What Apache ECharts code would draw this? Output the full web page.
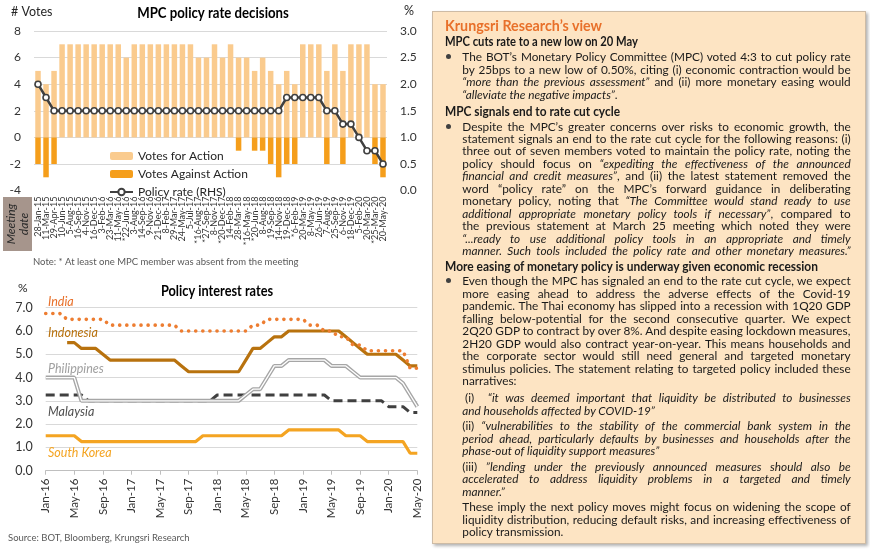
<!DOCTYPE html>
<html><head><meta charset="utf-8">
<script src="https://cdn.jsdelivr.net/npm/echarts@6/dist/echarts.min.js"></script>
<style>
html,body{margin:0;padding:0;background:#fff;width:870px;height:552px;overflow:hidden;}
#chart{position:absolute;left:0;top:0;width:870px;height:552px;}
#panel{position:absolute;left:432px;top:11px;width:434px;height:533px;background:#FDE4C3;border:1px solid #CDBBA5;box-shadow:2px 2px 3px rgba(0,0,0,0.3);font-family:Lato,sans-serif;color:#1a1a1a;box-sizing:border-box;}
.ln{position:absolute;white-space:nowrap;font-size:11.8px;line-height:13px;transform-origin:0 50%;}
.h{font-weight:bold;font-size:12.5px;}
.t{font-weight:bold;font-size:15px;color:#E8702A;line-height:17px;}
.dot{position:absolute;width:5px;height:5px;border-radius:50%;background:#404040;}
</style></head>
<body>
<div id="chart"></div>
<div id="panel"></div>
<script>
// ---------- Data: MPC policy rate decisions ----------
const meetingDates = ['28-Jan-15','11-Mar-15','29-Apr-15','10-Jun-15','5-Aug-15','16-Sep-15','4-Nov-15','16-Dec-15',
 '3-Feb-16','23-Mar-16','11-May-16','*22-Jun-16','3-Aug-16','14-Sep-16','9-Nov-16','21-Dec-16',
 '8-Feb-17','29-Mar-17','24-May-17','5-Jul-17','*16-Aug-17','*27-Sep-17','8-Nov-17','*20-Dec-17',
 '14-Feb-18','28-Mar-18','*16-May-18','*20-Jun-18','8-Aug-18','19-Sep-18','14-Nov-18','19-Dec-18',
 '*6-Feb-19','20-Mar-19','8-May-19','26-Jun-19','7-Aug-19','25-Sep-19','6-Nov-19','18-Dec-19',
 '5-Feb-20','20-Mar-20','*25-Mar-20','20-May-20'];
const votesFor = [5,4,5, 7,7,7,7,7,7,7,7, 6, 7,7,7,7,7,7,7,7,
 6,6,7,6,7,6,6,5,6,5,4,5,4,7,7,7,5,7,5,7,7,7,4,4];
const votesAgainst = [-2,-3,-2, 0,0,0,0,0,0,0,0,0,0,0,0,0,0,0,0,0,0,0,0,0,0,
 -1,0,-1,-1,-2,-3,-2,-2,0,0,0,-2,0,-2,0,0,0,-2,-3];
const policyRate = [2.0,1.75, 1.5,1.5,1.5,1.5,1.5,1.5,1.5,1.5,1.5,1.5,1.5,1.5,1.5,1.5,1.5,1.5,1.5,1.5,1.5,1.5,
 1.5,1.5,1.5,1.5,1.5,1.5,1.5,1.5,1.5, 1.75,1.75,1.75,1.75,1.75, 1.5,1.5, 1.25,1.25, 1.0, 0.75,0.75, 0.5];
const leftTicks = {min:-4, max:8, step:2};
const rightTicks = {min:0, max:3, step:0.5};

// ---------- Data: Policy interest rates (monthly) ----------
const months = ['Jan-16','Feb-16','Mar-16','Apr-16','May-16','Jun-16','Jul-16','Aug-16','Sep-16','Oct-16','Nov-16','Dec-16',
 'Jan-17','Feb-17','Mar-17','Apr-17','May-17','Jun-17','Jul-17','Aug-17','Sep-17','Oct-17','Nov-17','Dec-17',
 'Jan-18','Feb-18','Mar-18','Apr-18','May-18','Jun-18','Jul-18','Aug-18','Sep-18','Oct-18','Nov-18','Dec-18',
 'Jan-19','Feb-19','Mar-19','Apr-19','May-19','Jun-19','Jul-19','Aug-19','Sep-19','Oct-19','Nov-19','Dec-19',
 'Jan-20','Feb-20','Mar-20','Apr-20','May-20'];
const india = [6.75,6.75,6.75, 6.5,6.5,6.5,6.5,6.5,6.5, 6.25,6.25,6.25,6.25,6.25,6.25,6.25,6.25,6.25,6.25,
 6.0,6.0,6.0,6.0,6.0,6.0,6.0,6.0,6.0,6.0, 6.25,6.25, 6.5,6.5,6.5,6.5,6.5,6.5, 6.25,6.25, 6.0,6.0,
 5.75,5.75, 5.4,5.4, 5.15,5.15,5.15,5.15,5.15,5.15, 4.4,4.4];
const indonesia = [null,null,null, 5.5,5.5, 5.25,5.25,5.25, 5.0, 4.75,4.75,4.75,4.75,4.75,4.75,4.75,4.75,4.75,4.75,
 4.5, 4.25,4.25,4.25,4.25,4.25,4.25,4.25,4.25, 4.75, 5.25,5.25, 5.5, 5.75,5.75, 6.0,6.0,6.0,6.0,6.0,6.0,6.0,6.0,
 5.75,5.5,5.25, 5.0,5.0,5.0,5.0,5.0, 4.75, 4.5,4.5];
const philippines = [4.0,4.0,4.0,4.0,4.0, 3.0,3.0,3.0,3.0,3.0,3.0,3.0,3.0,3.0,3.0,3.0,3.0,3.0,3.0,3.0,3.0,3.0,3.0,3.0,3.0,3.0,3.0,3.0,
 3.25, 3.5,3.5, 4.0, 4.5,4.5, 4.75,4.75,4.75,4.75,4.75,4.75, 4.5,4.5,4.5, 4.25, 4.0,4.0,4.0,4.0,4.0,4.0, 3.75, 3.25, 2.75];
const malaysia = [3.25,3.25,3.25,3.25,3.25,3.25, 3.0,3.0,3.0,3.0,3.0,3.0,3.0,3.0,3.0,3.0,3.0,3.0,3.0,3.0,3.0,3.0,3.0,3.0,
 3.25,3.25,3.25,3.25,3.25,3.25,3.25,3.25,3.25,3.25,3.25,3.25,3.25,3.25,3.25,3.25,
 3.0,3.0,3.0,3.0,3.0,3.0,3.0,3.0, 2.75,2.75,2.75, 2.5,2.5];
const southKorea = [1.5,1.5,1.5,1.5,1.5, 1.25,1.25,1.25,1.25,1.25,1.25,1.25,1.25,1.25,1.25,1.25,1.25,1.25,1.25,1.25,1.25,1.25,
 1.5,1.5,1.5,1.5,1.5,1.5,1.5,1.5,1.5,1.5,1.5,1.5, 1.75,1.75,1.75,1.75,1.75,1.75,1.75,1.75,
 1.5,1.5,1.5, 1.25,1.25,1.25,1.25,1.25,1.25, 0.75,0.75];
const rateTicks = {min:0, max:7, step:1};

const FF = 'Lato, sans-serif';
const chart = echarts.init(document.getElementById('chart'), null, {renderer:'canvas'});
const gridGrey = '#D9D9D9';
const txt = '#404040';

function gtext(x, y, text, o) {
  o = o || {};
  return {type:'text', x:x, y:y, rotation:o.rotation||0, scaleX:o.scaleX||1, z:10,
    style:{text:text, fontSize:o.size||12, fontFamily:FF, fontWeight:o.weight||'normal', fontStyle:o.style||'normal',
      fill:o.color||txt, align:o.align||'left', verticalAlign:'middle', lineHeight:o.lh||undefined}};
}

const option = {
  animation:false,
  textStyle:{fontFamily:FF},
  grid:[
    {left:34, top:31, width:353, height:159.6},
    {left:45.7, top:307.7, width:371.6, height:163}
  ],
  legend:{
    data:['Votes for Action','Votes Against Action','Policy rate (RHS)'],
    orient:'vertical', left:104, top:145, itemWidth:23, itemHeight:8, itemGap:6,
    textStyle:{fontSize:12, color:'#262626', fontFamily:FF}, selectedMode:false
  },
  xAxis:[
    {type:'category', gridIndex:0, data:meetingDates, axisLine:{show:false}, axisTick:{show:false},
     axisLabel:{rotate:90, interval:0, fontSize:9, color:'#333', margin:6, fontFamily:FF}},
    {type:'category', gridIndex:1, data:months, boundaryGap:false,
     axisLine:{lineStyle:{color:'#BFBFBF', width:1}},
     axisTick:{interval:3, length:4, alignWithLabel:true, lineStyle:{color:'#BFBFBF'}},
     axisLabel:{interval:3, rotate:90, fontSize:11.5, color:'#333', margin:8, fontFamily:FF}}
  ],
  yAxis:[
    {type:'value', gridIndex:0, min:leftTicks.min, max:leftTicks.max, interval:leftTicks.step,
     axisLine:{show:false}, axisTick:{show:false},
     axisLabel:{fontSize:12, color:'#333', margin:13, fontFamily:FF},
     splitLine:{lineStyle:{color:['rgba(0,0,0,0)',gridGrey,gridGrey,gridGrey,gridGrey,gridGrey,gridGrey], width:1}}},
    {type:'value', gridIndex:0, position:'right', min:rightTicks.min, max:rightTicks.max, interval:rightTicks.step,
     axisLine:{show:false}, axisTick:{show:false}, splitLine:{show:false},
     axisLabel:{fontSize:12, color:'#333', margin:13, fontFamily:FF, formatter:v=>v.toFixed(1)}},
    {type:'value', gridIndex:1, min:rateTicks.min, max:rateTicks.max, interval:rateTicks.step,
     axisLine:{show:false}, axisTick:{show:false},
     axisLabel:{fontSize:12.5, color:'#333', margin:13, fontFamily:FF, formatter:v=>v.toFixed(1)},
     splitLine:{lineStyle:{color:gridGrey, width:1}}}
  ],
  series:[
    {name:'Votes for Action', type:'bar', xAxisIndex:0, yAxisIndex:0, data:votesFor, barWidth:5.5, barGap:'-100%',
     itemStyle:{color:'#FACB8E'}},
    {name:'Votes Against Action', type:'bar', xAxisIndex:0, yAxisIndex:0, data:votesAgainst, barWidth:5.5, barGap:'-100%',
     itemStyle:{color:'#F59E1B'}},
    {name:'Policy rate (RHS)', type:'line', xAxisIndex:0, yAxisIndex:1, data:policyRate, z:5,
     symbol:'circle', symbolSize:6, lineStyle:{color:'#404040', width:2.5},
     itemStyle:{color:'#fff', borderColor:'#404040', borderWidth:1.6}},
    {name:'South Korea', type:'line', xAxisIndex:1, yAxisIndex:2, data:southKorea, showSymbol:false,
     lineStyle:{color:'#F4A422', width:3.2}},
    {name:'Malaysia', type:'line', xAxisIndex:1, yAxisIndex:2, data:malaysia, showSymbol:false,
     lineStyle:{color:'#404040', width:3, type:[9,5]}},
    {name:'Philippines', type:'line', xAxisIndex:1, yAxisIndex:2, data:philippines, showSymbol:false,
     lineStyle:{color:'#A6A6A6', width:4}},
    {name:'Philippines inner', type:'line', xAxisIndex:1, yAxisIndex:2, data:philippines, showSymbol:false,
     lineStyle:{color:'#ffffff', width:1.3}},
    {name:'Indonesia', type:'line', xAxisIndex:1, yAxisIndex:2, data:indonesia, showSymbol:false,
     lineStyle:{color:'#B8720E', width:3.2}},
    {name:'India', type:'line', xAxisIndex:1, yAxisIndex:2, data:india, showSymbol:false,
     lineStyle:{color:'#ED7D31', width:3.6, type:[0.1,7], cap:'round'}}
  ],
  graphic:[
    gtext(213, 13, 'MPC policy rate decisions', {size:15, weight:'bold', align:'center', color:'#000', scaleX:0.88}),
    gtext(11, 12, '# Votes', {size:12.5, color:'#262626'}),
    gtext(404, 11, '%', {size:12.5, color:'#262626'}),
    {type:'rect', shape:{x:3, y:197, width:29, height:54}, style:{fill:'#A6958C'}, z:9},
    gtext(17.5, 224, 'Meeting\ndate', {size:12, style:'italic', align:'center', color:'#2a2a2a', rotation:Math.PI/2, lh:12.5}),
    gtext(33, 262, 'Note: * At least one MPC member was absent from the meeting', {size:9.5, color:'#595959'}),
    gtext(217, 291, 'Policy interest rates', {size:14.5, weight:'bold', align:'center', color:'#000', scaleX:0.88}),
    gtext(18, 288, '%', {size:12, color:'#262626'}),
    gtext(48, 302, 'India', {size:12.5, style:'italic', color:'#E8702A'}),
    gtext(48, 333, 'Indonesia', {size:12.5, style:'italic', color:'#B8720E'}),
    gtext(48, 369, 'Philippines', {size:12.5, style:'italic', color:'#A0A0A0'}),
    gtext(48, 412, 'Malaysia', {size:12.5, style:'italic', color:'#505050'}),
    gtext(48, 453, 'South Korea', {size:12.5, style:'italic', color:'#F4A422'}),
    gtext(8, 538, 'Source: BOT, Bloomberg, Krungsri Research', {size:9.5, color:'#595959'})
  ]
};
chart.setOption(option);

// ---------- Text panel ----------
const PX = 432, PY = 11, TX = 462.3, RX = 850.7, HX = 445;
// [x, centreY, endX (0 = paragraph end line), class, html]
const lines = [
 [HX, 25, 602, 't', 'Krungsri Research’s view'],
 [HX, 41, 638, 'h', 'MPC cuts rate to a new low on 20 May'],
 [TX, 56.7, RX, '', 'The BOT’s Monetary Policy Committee (MPC) voted 4:3 to cut policy rate'],
 [TX, 69.2, RX, '', 'by 25bps to a new low of 0.50%, citing (i) economic contraction would be'],
 [TX, 81.7, RX, '', '<i>“more than the previous assessment”</i> and (ii) more monetary easing would'],
 [TX, 94.2, 0, '', '<i>“alleviate the negative impacts”</i>.'],
 [HX, 111.7, 620, 'h', 'MPC signals end to rate cut cycle'],
 [TX, 126, RX, '', 'Despite the MPC’s greater concerns over risks to economic growth, the'],
 [TX, 138.45, RX, '', 'statement signals an end to the rate cut cycle for the following reasons: (i)'],
 [TX, 150.9, RX, '', 'three out of seven members voted to maintain the policy rate, noting the'],
 [TX, 163.35, RX, '', 'policy should focus on <i>“expediting the effectiveness of the announced</i>'],
 [TX, 175.8, RX, '', '<i>financial and credit measures”</i>, and (ii) the latest statement removed the'],
 [TX, 188.25, RX, '', 'word “policy rate” on the MPC’s forward guidance in deliberating'],
 [TX, 200.7, RX, '', 'monetary policy, noting that <i>“The Committee would stand ready to use</i>'],
 [TX, 213.15, RX, '', '<i>additional appropriate monetary policy tools if necessary”</i>, compared to'],
 [TX, 225.6, RX, '', 'the previous statement at March 25 meeting which noted they were'],
 [TX, 238.05, RX, '', '<i>“...ready to use additional policy tools in an appropriate and timely</i>'],
 [TX, 250.5, RX, '', '<i>manner. Such tools included the policy rate and other monetary measures.”</i>'],
 [HX, 266, 818, 'h', 'More easing of monetary policy is underway given economic recession'],
 [TX, 280.7, RX, '', 'Even though the MPC has signaled an end to the rate cut cycle, we expect'],
 [TX, 293.2, RX, '', 'more easing ahead to address the adverse effects of the Covid-19'],
 [TX, 305.7, RX, '', 'pandemic. The Thai economy has slipped into a recession with 1Q20 GDP'],
 [TX, 318.2, RX, '', 'falling below-potential for the second consecutive quarter. We expect'],
 [TX, 330.7, RX, '', '2Q20 GDP to contract by over 8%. And despite easing lockdown measures,'],
 [TX, 343.2, RX, '', '2H20 GDP would also contract year-on-year. This means households and'],
 [TX, 355.7, RX, '', 'the corporate sector would still need general and targeted monetary'],
 [TX, 368.2, RX, '', 'stimulus policies. The statement relating to targeted policy included these'],
 [TX, 380.7, 0, '', 'narratives:'],
 [465, 397.7, RX, '', '(i)&nbsp; <i>“it was deemed important that liquidity be distributed to businesses</i>'],
 [TX, 410.1, 0, '', '<i>and households affected by COVID-19”</i>'],
 [TX, 425.8, RX, '', '(ii) <i>“vulnerabilities to the stability of the commercial bank system in the</i>'],
 [TX, 438.2, RX, '', '<i>period ahead, particularly defaults by businesses and households after the</i>'],
 [TX, 450.6, 0, '', '<i>phase-out of liquidity support measures”</i>'],
 [TX, 466.5, RX, '', '(iii) <i>”lending under the previously announced measures should also be</i>'],
 [TX, 478.9, RX, '', '<i>accelerated to address liquidity problems in a targeted and timely</i>'],
 [TX, 491.3, 0, '', '<i>manner.”</i>'],
 [TX, 506.7, RX, '', 'These imply the next policy moves might focus on widening the scope of'],
 [TX, 519.1, RX, '', 'liquidity distribution, reducing default risks, and increasing effectiveness of'],
 [TX, 531.5, 0, '', 'policy transmission.']
];
const panel = document.getElementById('panel');
[56.7, 126, 280.7].forEach(y => {
  const d = document.createElement('div'); d.className = 'dot';
  d.style.left = (448 - PX - 2.5 - 1) + 'px'; d.style.top = (y - PY - 2.5 - 1) + 'px';
  panel.appendChild(d);
});
const els = lines.map(l => {
  const d = document.createElement('div');
  d.className = 'ln' + (l[3] ? ' ' + l[3] : '');
  d.innerHTML = l[4];
  panel.appendChild(d);
  const lh = l[3] === 't' ? 17 : 13;
  d.style.left = (l[0] - PX - 1) + 'px';
  d.style.top = (l[1] - PY - lh / 2 - 1) + 'px';
  return [d, l[2] ? l[2] - l[0] : 0, l[3]];
});
function fit() {
  let scales = [];
  els.forEach(([d, target, cls]) => {
    d.style.transform = ''; d.style.wordSpacing = '';
    if (!target) return;
    const w = d.getBoundingClientRect().width;
    if (w > target) {
      const s = target / w;
      d.style.transform = 'scaleX(' + s.toFixed(4) + ')';
      if (!cls) scales.push(s);
    } else {
      if (!cls) scales.push(1);
      const n = (d.textContent.match(/[ \u00a0]/g) || []).length;
      if (n > 0 && target - w > 0.5) d.style.wordSpacing = ((target - w) / n).toFixed(3) + 'px';
    }
  });
  scales.sort((a, b) => a - b);
  const med = scales.length ? scales[Math.floor(scales.length / 2)] : 1;
  els.forEach(([d, target]) => {
    if (!target && med < 1) d.style.transform = 'scaleX(' + med.toFixed(4) + ')';
  });
}
fit();
if (document.fonts && document.fonts.ready) document.fonts.ready.then(fit);
</script>
</body></html>
